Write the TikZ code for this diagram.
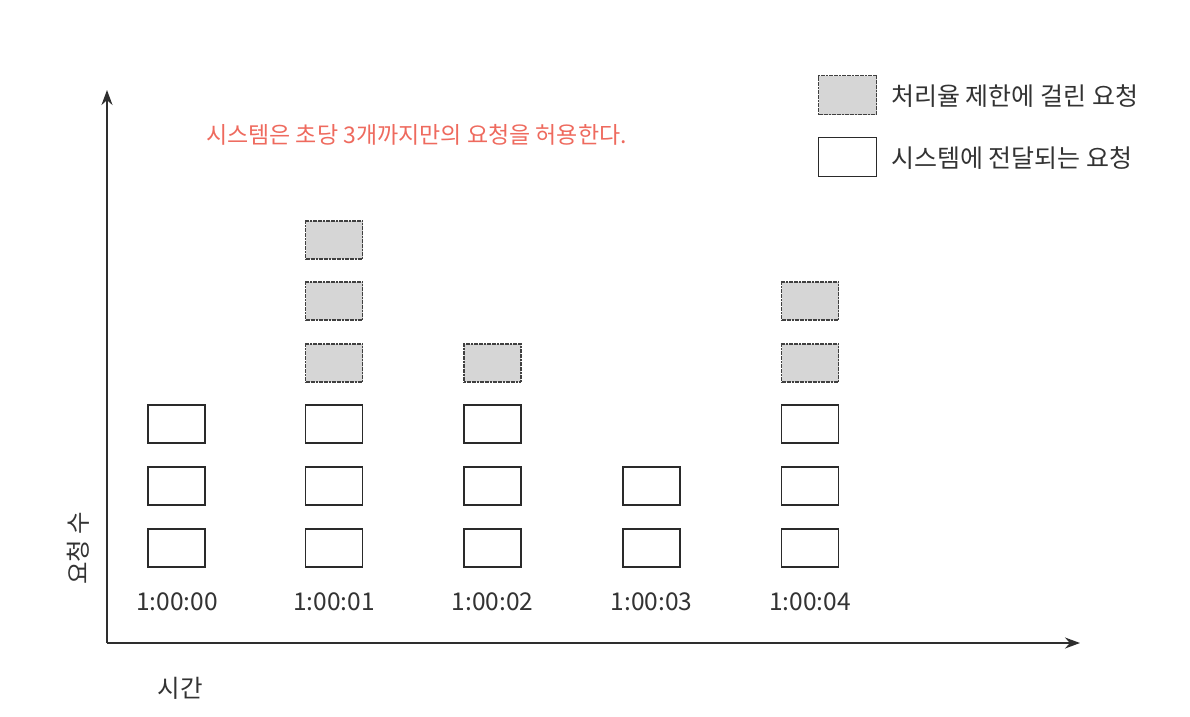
\documentclass[tikz,border=0pt]{standalone}
\usepackage{fontspec}
\setmainfont{Noto Sans CJK KR}
\usetikzlibrary{arrows.meta}
\definecolor{axisc}{HTML}{2E2E2E}
\definecolor{boxc}{HTML}{2A2A2A}
\definecolor{grayfill}{HTML}{D6D6D6}
\definecolor{redtxt}{HTML}{EE6A5E}
\definecolor{txtc}{HTML}{333333}
\tikzset{
  okbox/.style={draw=boxc, line width=1.5pt, fill=white, minimum width=57pt, minimum height=38pt, inner sep=0pt},
  limbox/.style={draw=gray!50!black, line width=1.3pt, dash pattern=on 2pt off 0.6pt, fill=grayfill, minimum width=57pt, minimum height=38pt, inner sep=0pt},
  ticklbl/.style={font=\fontsize{24.5}{28}\selectfont, text=txtc, inner sep=0pt},
  legtxt/.style={font=\fontsize{25}{28}\selectfont, text=txtc, anchor=west, inner sep=0pt},
  axisline/.style={draw=axisc, line width=2pt, -{Stealth[length=15pt,width=11pt]}}
}
\begin{document}
\begin{tikzpicture}[x=1pt,y=-1pt]
\useasboundingbox (0,0) rectangle (1190,716);
% axes
\coordinate (O) at (107,643);
\coordinate (ytip) at (107,90);
\coordinate (xtip) at (1080,643);
\draw[axisline] (O) -- (ytip);
\draw[axisline] (O) -- (xtip);
% column 1
\node[okbox] (a1) at (176.5,548) {};
\node[okbox] (a2) at (176.5,486) {};
\node[okbox] (a3) at (176.5,424) {};
% column 2
\node[okbox] (b1) at (334,548) {};
\node[okbox] (b2) at (334,486) {};
\node[okbox] (b3) at (334,424) {};
\node[limbox] (b4) at (334,363) {};
\node[limbox] (b5) at (334,301) {};
\node[limbox] (b6) at (334,240) {};
% column 3
\node[okbox] (c1) at (492.5,548) {};
\node[okbox] (c2) at (492.5,486) {};
\node[okbox] (c3) at (492.5,424) {};
\node[limbox] (c4) at (492.5,363) {};
% column 4
\node[okbox] (d1) at (651.5,548) {};
\node[okbox] (d2) at (651.5,486) {};
% column 5
\node[okbox] (e1) at (810,548) {};
\node[okbox] (e2) at (810,486) {};
\node[okbox] (e3) at (810,424) {};
\node[limbox] (e4) at (810,363) {};
\node[limbox] (e5) at (810,301) {};
% time labels
\node[ticklbl] (t0) at (177,602) {1:00:00};
\node[ticklbl] (t1) at (334,602) {1:00:01};
\node[ticklbl] (t2) at (492.5,602) {1:00:02};
\node[ticklbl] (t3) at (651.5,602) {1:00:03};
\node[ticklbl] (t4) at (810,602) {1:00:04};
% axis titles
\node[ticklbl, rotate=90] (ylab) at (78,548) {요청 수};
\node[ticklbl] (xlab) at (180,688) {시간};
% note
\node[font=\fontsize{23}{26}\selectfont, text=redtxt, anchor=west, inner sep=0pt] (note) at (206,135) {시스템은 초당 3개까지만의 요청을 허용한다.};
% legend
\node[limbox, minimum width=58pt, minimum height=39pt] (lg1) at (847.5,95) {};
\node[okbox, minimum width=58pt, minimum height=39pt] (lg2) at (847.5,157) {};
\node[legtxt] (lt1) at (891,96) {처리율 제한에 걸린 요청};
\node[legtxt] (lt2) at (891,158) {시스템에 전달되는 요청};
\end{tikzpicture}
\end{document}
